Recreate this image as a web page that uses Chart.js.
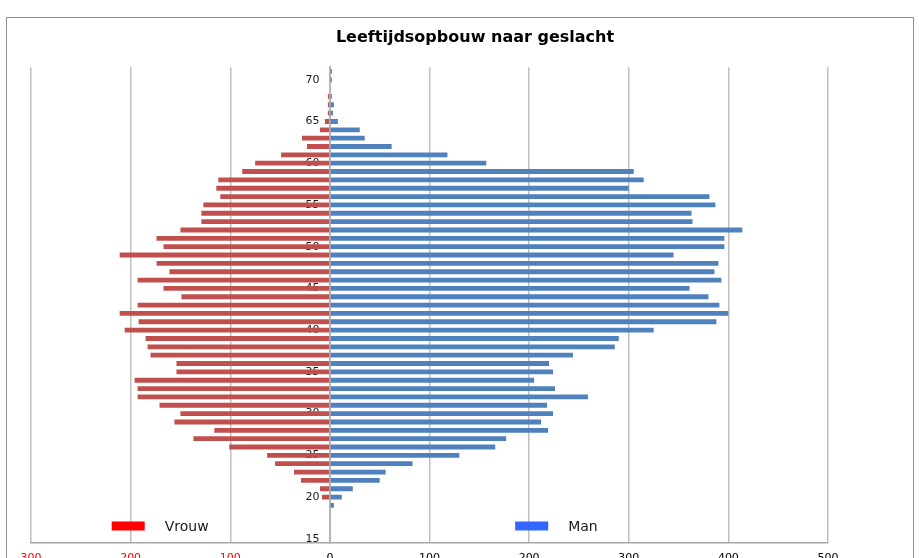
<!DOCTYPE html>
<html>
<head>
<meta charset="utf-8">
<script src="https://cdn.jsdelivr.net/npm/chart.js@4.4.1/dist/chart.umd.min.js"></script>
<style>
  html, body { margin: 0; padding: 0; background: #fff; overflow: hidden; }
  #frame { position: absolute; left: 6px; top: 17px; width: 906px; height: 600px; border: 1px solid #8f8f8f; }
  #myChart { position: absolute; left: 0; top: 0; }
</style>
</head>
<body>
<div id="frame"></div>
<canvas id="myChart" width="919" height="573"></canvas>
<script>
// leeftijden van onder (15) naar boven (71)
const leeftijden = ['15', '16', '17', '18', '19', '20', '21', '22', '23', '24',
    '25', '26', '27', '28', '29', '30', '31', '32', '33', '34',
    '35', '36', '37', '38', '39', '40', '41', '42', '43', '44',
    '45', '46', '47', '48', '49', '50', '51', '52', '53', '54',
    '55', '56', '57', '58', '59', '60', '61', '62', '63', '64',
    '65', '66', '67', '68', '69', '70', '71'];

const vrouw = [0, 0, 0, 0, 0, 8, 10, 29, 36, 55,
    63, 101, 137, 116, 156, 150, 171, 193, 193, 196,
    154, 154, 180, 183, 185, 206, 192, 211, 193, 149,
    167, 193, 161, 174, 211, 167, 174, 150, 129, 129,
    127, 110, 114, 112, 88, 75, 49, 23, 28, 10,
    5, 2, 2, 2, 0, 0, 0];

const man = [0, 0, 0, 0, 4, 12, 23, 50, 56, 83,
    130, 166, 177, 219, 212, 224, 218, 259, 226, 205,
    224, 220, 244, 286, 290, 325, 388, 400, 391, 380,
    361, 393, 386, 390, 345, 396, 396, 414, 364, 363,
    387, 381, 300, 315, 305, 157, 118, 62, 35, 30,
    8, 3, 4, 2, 0, 2, 2];

// alleen deze leeftijden krijgen een label
const leeftijdLabels = ['15', '20', '25', '30', '35', '40', '45', '50', '55', '60', '65', '70'];
const asMin = -300;
const asMax = 500;
const asStap = 100;

const binnenLegenda = {
    id: 'binnenLegenda',
    afterLayout(chart) {
        // titel boven het hele kader centreren, niet boven het plotgebied
        if (chart.titleBlock) {
            chart.titleBlock.left = 31;
            chart.titleBlock.right = 919;
        }
    },
    afterDraw(chart) {
        const ctx = chart.ctx;
        const xAs = chart.scales.x;
        const yMid = chart.chartArea.bottom - 17;
        const startWaarden = [-219, 186];
        ctx.save();
        ctx.font = '14px "DejaVu Sans"';
        ctx.textBaseline = 'middle';
        chart.data.datasets.forEach((ds, i) => {
            const x0 = xAs.getPixelForValue(startWaarden[i]);
            ctx.fillStyle = ds.legendKleur;
            ctx.fillRect(x0, yMid - 4.5, 33, 9);
            ctx.fillStyle = '#1a1a1a';
            ctx.fillText(ds.label, x0 + 53, yMid + 1);
        });
        ctx.restore();
    }
};

const ctx = document.getElementById('myChart').getContext('2d');
const chart = new Chart(ctx, {
    type: 'bar',
    data: {
        labels: leeftijden,
        datasets: [{
            label: 'Vrouw',
            data: vrouw.map(v => -v),
            backgroundColor: '#c0504d',
            legendKleur: '#ff0000',
            barPercentage: 0.58,
            categoryPercentage: 1
        }, {
            label: 'Man',
            data: man,
            backgroundColor: '#4f81bd',
            legendKleur: '#3366ff',
            barPercentage: 0.58,
            categoryPercentage: 1
        }]
    },
    options: {
        indexAxis: 'y',
        responsive: false,
        animation: false,
        layout: { padding: { left: 31, right: 91, top: 27, bottom: 0 } },
        plugins: {
            legend: { display: false },
            tooltip: { enabled: false },
            title: {
                display: true,
                text: 'Leeftijdsopbouw naar geslacht',
                color: '#000',
                font: { family: 'DejaVu Sans', size: 16, weight: 'bold' },
                padding: { top: 1, bottom: 20 }
            }
        },
        scales: {
            x: {
                type: 'linear',
                min: asMin,
                max: asMax,
                stacked: true,
                grid: { color: '#bfbfbf', lineWidth: 1.5, drawTicks: false },
                border: { color: '#a6a6a6', width: 1.5 },
                ticks: {
                    stepSize: asStap,
                    padding: 9,
                    font: { family: 'DejaVu Sans', size: 11 },
                    color: (c) => c.tick.value < 0 ? '#ff0000' : '#000',
                    callback: (v) => Math.abs(v)
                },
                afterFit: (s) => { s.height = 30; }
            },
            y: {
                type: 'category',
                stacked: true,
                reverse: true,
                position: { x: 0 },
                z: 1,
                grid: { display: false },
                border: { color: '#b5b5b5', width: 2 },
                ticks: {
                    autoSkip: false,
                    font: { family: 'DejaVu Sans', size: 11 },
                    color: '#1a1a1a',
                    callback: function (val) {
                        const l = this.getLabelForValue(val);
                        return leeftijdLabels.includes(l) ? l + '   ' : '';
                    }
                }
            }
        }
    },
    plugins: [binnenLegenda]
});
</script>
</body>
</html>
